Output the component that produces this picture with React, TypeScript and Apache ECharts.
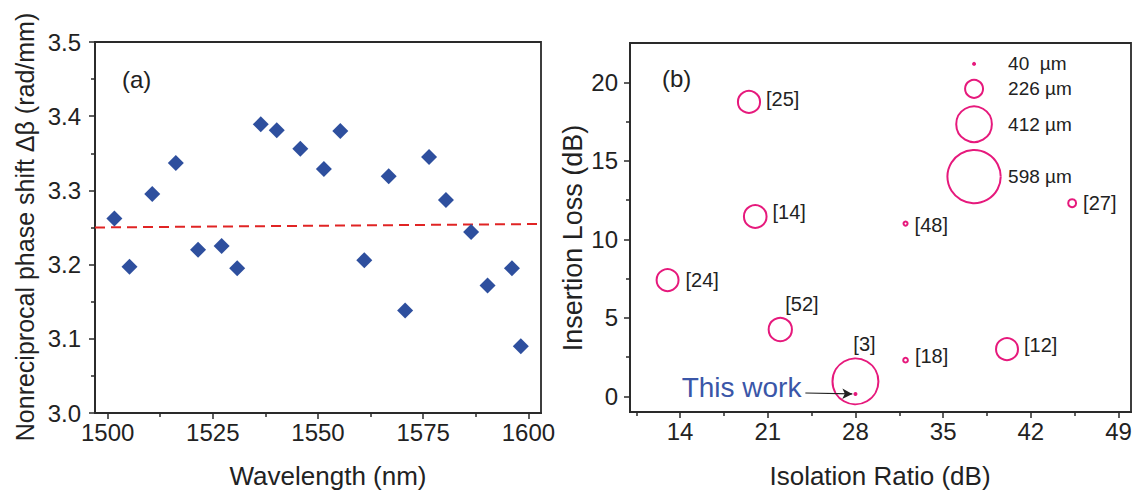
import React, { useEffect, useRef } from "react";
import * as echarts from "echarts";

// ---- Panel (a) data ----
const wavelengths = [1501.6, 1505.2, 1510.6, 1516.2, 1521.5, 1527.1, 1530.8, 1536.4, 1540.2, 1545.8, 1551.4, 1555.3, 1561.0, 1566.8, 1570.7, 1576.4, 1580.4, 1586.4, 1590.3, 1596.1, 1598.2];
const phaseShift = [3.262, 3.197, 3.295, 3.337, 3.220, 3.225, 3.195, 3.389, 3.381, 3.356, 3.329, 3.380, 3.206, 3.319, 3.138, 3.345, 3.287, 3.244, 3.172, 3.195, 3.090];
const fitX = [1497, 1603];
const fitY = [3.25, 3.2547];
const aXMajor = [1500, 1525, 1550, 1575, 1600];
const aXMinor = [1512.5, 1537.5, 1562.5, 1587.5];
const aYMajor = [3.0, 3.1, 3.2, 3.3, 3.4, 3.5];
const aYMinor = [3.05, 3.15, 3.25, 3.35, 3.45];

// ---- Panel (b) data ----
const refNames = ["[25]", "[14]", "[24]", "[52]", "[3]", "[18]", "[48]", "[12]", "[27]"];
const refIsolation = [19.5, 20.0, 13.0, 22.0, 28.0, 32.0, 32.0, 40.1, 45.3];
const refInsertion = [18.75, 11.45, 7.4, 4.25, 0.95, 2.3, 11.0, 3.0, 12.3];
const refLength = [270, 275, 268, 282, 520, 86, 80, 268, 120];
const thisWork = { name: "This work", isolation: 28.0, insertion: 0.15, length: 40 };
const arrowFrom = [24.0, 0.21];
const arrowTo = [27.75, 0.15];
const legendLengths = [40, 226, 412, 598];
const legendLabels = ["40  µm", "226 µm", "412 µm", "598 µm"];
const legendIsolation = [37.47, 37.47, 37.47, 37.47];
const legendInsertion = [21.17, 19.58, 17.33, 13.99];
const bXMajor = [14, 21, 28, 35, 42, 49];
const bXMinor = [10.5, 17.5, 24.5, 31.5, 38.5, 45.5];
const bYMajor = [0, 5, 10, 15, 20];
const bYMinor = [2.5, 7.5, 12.5, 17.5];

const FONT = "'Liberation Sans', Arial, sans-serif";
const PINK = "#e6197c";
const BLUE = "#2e4f9e";
const AXIS = "#2a2a2a";
const TXT = "#222";

// label placement per reference (styles, not data)
const refLabelStyle: Record<string, any> = {
  "[25]": { position: "right", distance: 5, offset: [0, -3] },
  "[14]": { position: "right", distance: 5, offset: [0, -5] },
  "[24]": { position: "right", distance: 6, offset: [0, 0] },
  "[52]": { position: "inside", align: "left", offset: [5, -26] },
  "[3]": { position: "inside", align: "center", offset: [9, -37] },
  "[18]": { position: "right", distance: 6, offset: [0, -4] },
  "[48]": { position: "right", distance: 6, offset: [0, 1] },
  "[12]": { position: "right", distance: 5, offset: [0, -4] },
  "[27]": { position: "right", distance: 6, offset: [0, 0] },
};

const sizeOf = (len: number) => Math.max(2, 0.095 * len - 3.5);

function mainAxis(gridIndex: number, min: number, max: number, major: number[], fmt: (v: number) => string, position: string, margin: number) {
  return {
    type: "value",
    gridIndex,
    min,
    max,
    position,
    axisLine: { show: true, onZero: false, lineStyle: { color: AXIS, width: 1.8 } },
    axisTick: { show: true, inside: false, length: 6, customValues: major, lineStyle: { color: AXIS, width: 1.5 } },
    axisLabel: { show: true, customValues: major, formatter: fmt, color: TXT, fontSize: 24, fontFamily: FONT, margin },
    splitLine: { show: false },
  };
}

function minorAxis(gridIndex: number, min: number, max: number, minor: number[], position: string) {
  return {
    type: "value",
    gridIndex,
    min,
    max,
    position,
    axisLine: { show: false, onZero: false },
    axisTick: { show: true, inside: false, length: 4, customValues: minor, lineStyle: { color: AXIS, width: 1.5 } },
    axisLabel: { show: false },
    splitLine: { show: false },
  };
}

export default function App() {
  const ref = useRef<HTMLDivElement>(null);
  useEffect(() => {
    if (!ref.current) return;
    const chart = echarts.init(ref.current, undefined, { renderer: "svg" });

    const refData = refNames.map((n, i) => ({
      name: n,
      value: [refIsolation[i], refInsertion[i], refLength[i]],
      label: { show: true, formatter: n, color: TXT, fontSize: 20, fontFamily: FONT, ...refLabelStyle[n] },
    }));
    const legendData = legendLabels.map((l, i) => ({
      name: l,
      value: [legendIsolation[i], legendInsertion[i], legendLengths[i]],
      label: { show: true, formatter: l, position: "inside", align: "left", offset: [34, 0], color: TXT, fontSize: 19, fontFamily: FONT },
    }));

    const option: any = {
      animation: false,
      backgroundColor: "#fff",
      grid: [
        { left: 95, top: 42, width: 446, height: 371, show: true, borderColor: AXIS, borderWidth: 1.8, backgroundColor: "transparent" },
        { left: 630, top: 43, width: 501, height: 369, show: true, borderColor: AXIS, borderWidth: 1.8, backgroundColor: "transparent" },
      ],
      xAxis: [
        mainAxis(0, 1497, 1603, aXMajor, (v) => String(v), "bottom", 7),
        minorAxis(0, 1497, 1603, aXMinor, "bottom"),
        mainAxis(1, 10, 50, bXMajor, (v) => String(v), "bottom", 7),
        minorAxis(1, 10, 50, bXMinor, "bottom"),
      ],
      yAxis: [
        mainAxis(0, 3.0, 3.5, aYMajor, (v) => v.toFixed(1), "left", 14),
        minorAxis(0, 3.0, 3.5, aYMinor, "left"),
        mainAxis(1, -1, 22.5, bYMajor, (v) => String(v), "left", 12),
        minorAxis(1, -1, 22.5, bYMinor, "left"),
      ],
      series: [
        {
          type: "line",
          xAxisIndex: 0,
          yAxisIndex: 0,
          data: fitX.map((x, i) => [x, fitY[i]]),
          symbol: "none",
          lineStyle: { color: "#e02424", width: 2, type: [10, 6] },
          z: 1,
        },
        {
          type: "scatter",
          xAxisIndex: 0,
          yAxisIndex: 0,
          data: wavelengths.map((w, i) => [w, phaseShift[i]]),
          symbol: "diamond",
          symbolSize: 16,
          itemStyle: { color: BLUE, opacity: 1 },
          z: 3,
        },
        {
          type: "scatter",
          xAxisIndex: 2,
          yAxisIndex: 2,
          data: refData,
          symbolSize: (v: number[]) => sizeOf(v[2]),
          itemStyle: { color: "rgba(0,0,0,0)", borderColor: PINK, borderWidth: 2, opacity: 1 },
          z: 3,
        },
        {
          type: "scatter",
          xAxisIndex: 2,
          yAxisIndex: 2,
          data: legendData,
          symbolSize: (v: number[]) => sizeOf(v[2]),
          itemStyle: { color: "rgba(0,0,0,0)", borderColor: PINK, borderWidth: 2, opacity: 1 },
          z: 3,
        },
        {
          type: "scatter",
          xAxisIndex: 2,
          yAxisIndex: 2,
          data: [{
            name: thisWork.name,
            value: [thisWork.isolation, thisWork.insertion, thisWork.length],
            label: { show: true, formatter: thisWork.name, position: "left", distance: 52, offset: [0, -6], color: "#3a56a8", fontSize: 28, fontFamily: FONT },
          }],
          symbolSize: (v: number[]) => sizeOf(v[2]),
          itemStyle: { color: PINK, borderColor: PINK, borderWidth: 2, opacity: 1 },
          z: 4,
          markLine: {
            silent: true,
            symbol: ["none", "arrow"],
            symbolSize: [8, 10],
            label: { show: false },
            lineStyle: { color: "#222", width: 1.2, type: "solid" },
            data: [[{ coord: arrowFrom }, { coord: arrowTo }]],
          },
        },
      ],
      graphic: [
        { type: "text", left: 122, top: 67, style: { text: "(a)", font: `24px ${FONT}`, fill: TXT } },
        { type: "text", left: 662, top: 66, style: { text: "(b)", font: `24px ${FONT}`, fill: TXT } },
        { type: "text", x: 328, y: 476, style: { text: "Wavelength (nm)", font: `26px ${FONT}`, fill: TXT, align: "center", verticalAlign: "middle" } },
        { type: "text", x: 880, y: 476, style: { text: "Isolation Ratio (dB)", font: `26px ${FONT}`, fill: TXT, align: "center", verticalAlign: "middle" } },
        { type: "text", x: 25, y: 227, rotation: Math.PI / 2, style: { text: "Nonreciprocal phase shift Δβ (rad/mm)", font: `25px ${FONT}`, fill: TXT, align: "center", verticalAlign: "middle" } },
        { type: "text", x: 573, y: 238, rotation: Math.PI / 2, style: { text: "Insertion Loss (dB)", font: `27px ${FONT}`, fill: TXT, align: "center", verticalAlign: "middle" } },
      ],
    };
    chart.setOption(option);
    return () => chart.dispose();
  }, []);
  return <div ref={ref} style={{ position: "fixed", left: 0, top: 0, width: 1136, height: 493 }} />;
}
